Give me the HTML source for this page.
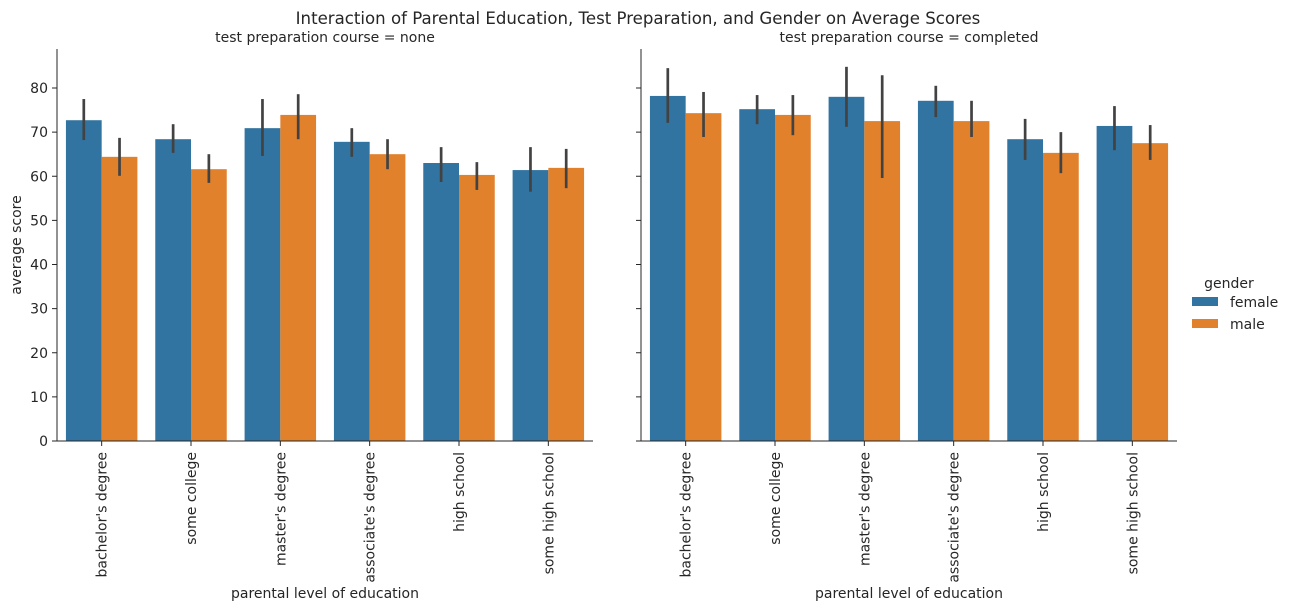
<!DOCTYPE html>
<html><head><meta charset="utf-8"><style>
body{margin:0;background:#fff;font-family:"Liberation Sans","DejaVu Sans",sans-serif;}
svg text{font-family:"DejaVu Sans","Liberation Sans",sans-serif;fill:#262626;}
</style></head><body>
<svg id="chart" width="1291" height="610" xmlns="http://www.w3.org/2000/svg">
<text x="638" y="24" font-size="16.6" text-anchor="middle">Interaction of Parental Education, Test Preparation, and Gender on Average Scores</text>
<g id="plot"></g>
</svg>
<script>
const categories=["bachelor's degree","some college","master's degree","associate's degree","high school","some high school"];
const panels=["none","completed"];
const femaleNone=[72.7,68.4,70.9,67.8,63.0,61.4];
const maleNone=[64.4,61.6,73.9,65.0,60.3,61.9];
const femaleNoneLo=[68.2,65.3,64.6,64.4,58.7,56.5];
const femaleNoneHi=[77.5,71.8,77.5,70.9,66.6,66.6];
const maleNoneLo=[60.1,58.5,68.4,61.6,56.9,57.3];
const maleNoneHi=[68.7,65.0,78.6,68.4,63.2,66.2];
const femaleComp=[78.2,75.2,78.0,77.1,68.4,71.4];
const maleComp=[74.3,73.9,72.5,72.5,65.3,67.5];
const femaleCompLo=[72.1,71.8,71.2,73.4,63.7,65.9];
const femaleCompHi=[84.5,78.4,84.8,80.5,73.0,75.9];
const maleCompLo=[68.9,69.3,59.6,68.9,60.7,63.7];
const maleCompHi=[79.1,78.4,82.9,77.1,70.0,71.6];
const yTicks=[0,10,20,30,40,50,60,70,80];

const NS="http://www.w3.org/2000/svg";
const g=document.getElementById('plot');
function el(t,a,p){const e=document.createElementNS(NS,t);for(const k in a)e.setAttribute(k,a[k]);(p||g).appendChild(e);return e;}
const y0=441,pxPer=4.4125,FS=14;
function yS(v){return y0-v*pxPer;}
const panelX=[57,641],W=536,topY=49;
const series=[[femaleNone,maleNone,femaleNoneLo,femaleNoneHi,maleNoneLo,maleNoneHi],[femaleComp,maleComp,femaleCompLo,femaleCompHi,maleCompLo,maleCompHi]];
const colors=["#3274a1","#e1812c"];
panels.forEach((p,pi)=>{
  const x0=panelX[pi],cw=W/categories.length,bw=cw*0.4;
  const t=el('text',{x:x0+W/2,y:42,'font-size':FS,'text-anchor':'middle'});t.textContent='test preparation course = '+p;
  
  
  const s=series[pi];
  categories.forEach((c,i)=>{
    const cx=x0+cw*(i+0.5);
    [0,1].forEach(k=>{
      const bx=cx-bw+k*bw;
      const r=el('rect',{x:bx,y:yS(s[k][i]),width:bw,height:s[k][i]*pxPer,fill:colors[k]});
      
      
      const ln=el('line',{x1:bx+bw/2,x2:bx+bw/2,y1:yS(s[2+k*2][i]),y2:yS(s[3+k*2][i]),stroke:'#424242','stroke-width':2.7});
      
      
    });
    el('line',{x1:cx,x2:cx,y1:y0,y2:y0+5,stroke:'#262626'});
    const lt=el('text',{x:0,y:0,'font-size':FS,'text-anchor':'end',transform:`translate(${cx+5},${y0+11}) rotate(-90)`});
    lt.textContent=c;
    
    
  });
  el('line',{x1:x0,x2:x0,y1:topY,y2:y0,stroke:'#262626','stroke-width':1});
  el('line',{x1:x0,x2:x0+W,y1:y0,y2:y0,stroke:'#262626','stroke-width':1});
  yTicks.forEach(v=>{
    el('line',{x1:x0-5,x2:x0,y1:yS(v),y2:yS(v),stroke:'#262626'});
    if(pi===0){const tt=el('text',{x:x0-9,y:yS(v)+5,'font-size':FS,'text-anchor':'end'});tt.textContent=v;
      
      }
  });
  const xt=el('text',{x:x0+W/2,y:598,'font-size':FS,'text-anchor':'middle'});xt.textContent='parental level of education';
  
  
});
const yt=el('text',{x:0,y:0,'font-size':FS,'text-anchor':'middle',transform:'translate(21,245) rotate(-90)'});yt.textContent='average score';


const lg=el('g',{});


const lgt=el('text',{x:1229,y:288,'font-size':FS,'text-anchor':'middle'},lg);lgt.textContent='gender';
["female","male"].forEach((n,i)=>{
  const r=el('rect',{x:1192,y:297+i*22,width:26,height:9,fill:colors[i]},lg);
  
  
  const t=el('text',{x:1230,y:307+i*22,'font-size':FS},lg);t.textContent=n;
  
  
});
</script>
</body></html>
